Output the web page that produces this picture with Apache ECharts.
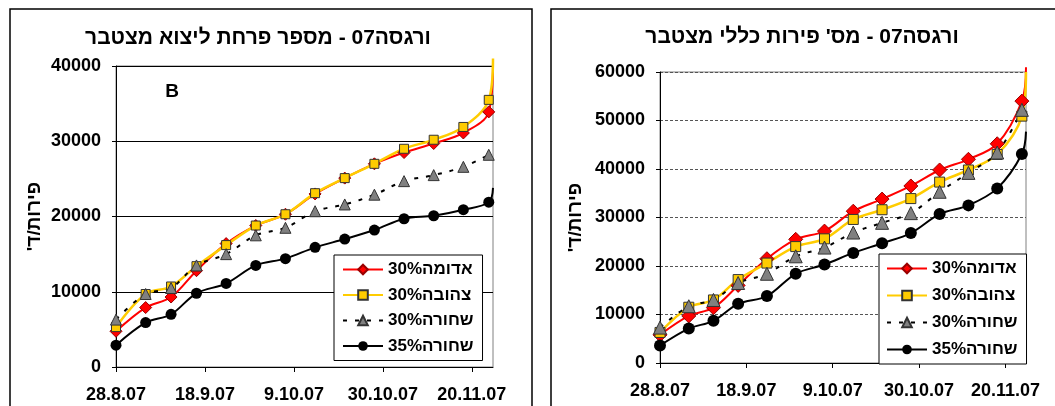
<!DOCTYPE html>
<html><head><meta charset="utf-8">
<script src="https://cdn.jsdelivr.net/npm/echarts@6/dist/echarts.min.js"></script>
<style>html,body{margin:0;padding:0;background:#fff}#c{width:1055px;height:406px}</style>
</head><body><div id="c"></div>
<script>
// ---- data ----
const startDate = '2007-08-28';
const dates = ['2007-08-28','2007-09-04','2007-09-10','2007-09-16','2007-09-23','2007-09-30','2007-10-07','2007-10-14','2007-10-21','2007-10-28','2007-11-04','2007-11-11','2007-11-18','2007-11-24'];
const edgeDate = '2007-11-25';
const xTickLabels = ['28.8.07','18.9.07','9.10.07','30.10.07','20.11.07'];
const seriesNames = ['אדומה30%','צהובה30%','שחורה30%','שחורה35%'];
const leftTitle = 'ורגסה07 - מספר פרחת ליצוא מצטבר';
const rightTitle = "ורגסה07 - מס' פירות כללי מצטבר";
const yName = "פירות/ד'\u200F";
// left chart: cumulative export fruits
const exportRed    = [4750,7900,9300,12800,16400,18800,20300,23000,25100,27000,28500,29700,31100,33900];
const exportYellow = [5300,9700,10700,13400,16200,18800,20300,23100,25100,27000,29000,30200,31900,35500];
const exportBlack30= [6300,9700,10500,13500,15000,17500,18500,20700,21600,22900,24700,25500,26600,28200];
const exportBlack35= [2900,5900,7000,9800,11100,13500,14400,15900,17000,18200,19700,20100,20900,21900];
const exportEdge   = [40500,41000,null,23800];
// right chart: cumulative total fruits
const totalRed     = [5800,9700,11400,16000,21500,25500,27200,31300,33800,36500,39800,42000,45200,54000];
const totalYellow  = [6300,11500,13000,17200,20600,24000,25600,29600,31600,33900,37300,39800,43000,50900];
const totalBlack30 = [7300,11700,13000,16500,18400,22000,23800,26900,28900,30900,35300,39200,43400,52200];
const totalBlack35 = [3600,7100,8700,12200,13800,18400,20300,22700,24700,26800,30700,32500,36000,43100];
const totalEdge    = [61000,60000,null,47700];

const FONT = 'Liberation Sans, Arial, sans-serif';
const DAY = 86400000;
function dayOf(d){ return Math.round((Date.parse(d+'T00:00:00Z') - Date.parse(startDate+'T00:00:00Z'))/DAY); }
const axisMaxDay = dayOf(edgeDate);

const styles = [
  {symbol:'diamond', line:{color:'#ff0000', width:2}, item:{color:'#ff0000', borderColor:'#990000', borderWidth:1}, size:[12,14]},
  {symbol:'rect', line:{color:'#ffcc00', width:2.5}, item:{color:'#ffcc00', borderColor:'#333', borderWidth:1}, size:[9,10]},
  {symbol:'triangle', line:{color:'#000', width:2, type:[4,8]}, item:{color:'#808080', borderColor:'#333', borderWidth:1}, size:[11,13]},
  {symbol:'circle', line:{color:'#000', width:2}, item:{color:'#000'}, size:[11,12]}
];

function mk(idx, values, edge, chart){
  const st = styles[idx];
  const data = values.map((v,i)=>[dayOf(dates[i]), v]);
  if (edge != null) data.push({value:[axisMaxDay, edge], symbol:'none'});
  return {
    type:'line', name:seriesNames[idx], xAxisIndex:chart, yAxisIndex:chart,
    data, smooth:0.35, clip:false, symbol:st.symbol, symbolSize:st.size[chart],
    lineStyle:st.line, itemStyle:st.item, emphasis:{disabled:true}, animation:false
  };
}

function xAxis(gi){
  return {
    type:'value', gridIndex:gi, min:0, max:axisMaxDay, interval:21,
    axisLine:{lineStyle:{color:'#000', width:1}},
    axisTick:{show:true, length:5, lineStyle:{color:'#000'}},
    splitLine:{show:false},
    axisLabel:{showMaxLabel:false, margin:19, color:'#000', fontFamily:FONT, fontWeight:'bold', fontSize:18,
      formatter:(v)=>{ const i=Math.round(v/21); return (v%21===0 && xTickLabels[i]) ? xTickLabels[i] : ''; }}
  };
}
function yAxis(gi, max, gridStyle, gap){
  return {
    type:'value', gridIndex:gi, min:0, max:max, interval:10000,
    name:yName, nameLocation:'middle', nameGap:gap,
    nameTextStyle:{color:'#000', fontFamily:FONT, fontWeight:'bold', fontSize:19},
    axisLine:{show:true, lineStyle:{color:'#000', width:1}},
    axisTick:{show:true, length:4, lineStyle:{color:'#000'}},
    splitLine:{show:true, lineStyle:gridStyle},
    axisLabel:{margin:15, color:'#000', fontFamily:FONT, fontWeight:'bold', fontSize:18, formatter:(v)=>String(v)}
  };
}
function legend(left, top, gap, pad){
  return {
    data:seriesNames, orient:'vertical', left, top, itemWidth:40, itemHeight:12, itemGap:gap,
    padding:pad, borderColor:'#000', borderWidth:1, backgroundColor:'#fff', selectedMode:false,
    textStyle:{color:'#000', fontFamily:FONT, fontWeight:'bold', fontSize:17}
  };
}

const chart = echarts.init(document.getElementById('c'), null, {renderer:'canvas'});
chart.setOption({
  animation:false,
  backgroundColor:'#fff',
  grid:[
    {left:116, top:66, width:377, height:301, show:true, borderColor:'#808080', borderWidth:1, backgroundColor:'transparent'},
    {left:660, top:72, width:366, height:291, show:true, borderColor:'#808080', borderWidth:1, backgroundColor:'transparent'}
  ],
  xAxis:[xAxis(0), xAxis(1)],
  yAxis:[
    yAxis(0, 40000, {color:'#000', width:1}, 72),
    yAxis(1, 60000, {color:'#555', width:1, type:[3,2]}, 75)
  ],
  legend:[legend(334, 255, 8.5, [6,9,6,8]), legend(879, 254, 10, [6,9,6,7])],
  series:[
    mk(0, exportRed, exportEdge[0], 0), mk(1, exportYellow, exportEdge[1], 0),
    mk(2, exportBlack30, exportEdge[2], 0), mk(3, exportBlack35, exportEdge[3], 0),
    mk(0, totalRed, totalEdge[0], 1), mk(1, totalYellow, totalEdge[1], 1),
    mk(2, totalBlack30, totalEdge[2], 1), mk(3, totalBlack35, totalEdge[3], 1)
  ],
  graphic:[
    {type:'rect', shape:{x:10, y:9, width:522, height:430}, style:{fill:'none', stroke:'#000', lineWidth:1.5}, silent:true, z:-1},
    {type:'rect', shape:{x:551, y:9, width:540, height:430}, style:{fill:'none', stroke:'#000', lineWidth:1.5}, silent:true, z:-1},
    {type:'text', x:258, y:38, style:{text:leftTitle, font:'bold 21px '+FONT, fill:'#000', align:'center', verticalAlign:'middle'}},
    {type:'text', x:802, y:37, style:{text:rightTitle, font:'bold 21px '+FONT, fill:'#000', align:'center', verticalAlign:'middle'}},
    {type:'text', x:172, y:92, style:{text:'B', font:'bold 19px '+FONT, fill:'#000', align:'center', verticalAlign:'middle'}}
  ]
});
</script></body></html>
